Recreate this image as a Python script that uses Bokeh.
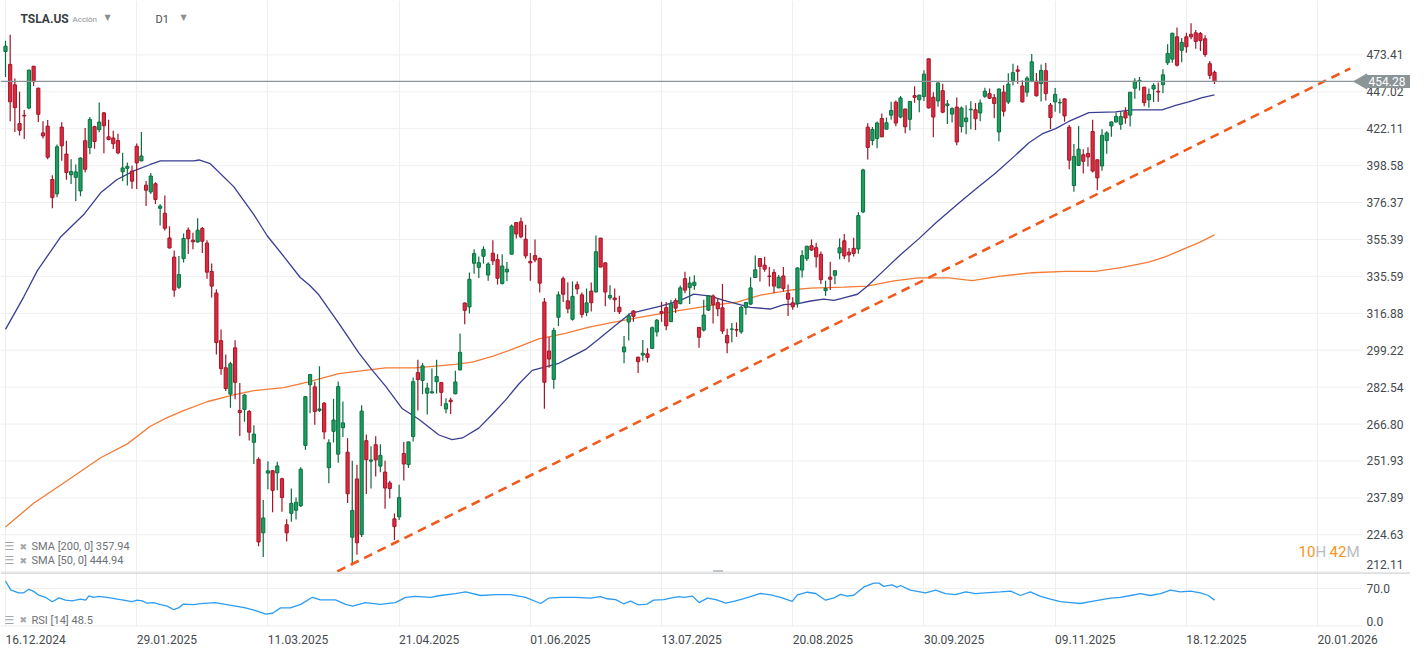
import math
from bokeh.plotting import figure
from bokeh.models import (Range1d, FixedTicker, Span, Label, ColumnDataSource,
                          CustomJSTickFormatter, Grid)
from bokeh.layouts import column
from bokeh.embed import file_html
from bokeh.resources import INLINE
from bokeh.core.properties import value

# ---------------- data (daily TSLA.US candles, 17.12.2024 .. 30.12.2025) ----------------
OPEN = [475.90, 466.50, 451.88, 425.51, 431.00, 435.90, 465.16, 449.52, 419.40, 423.79,
        390.10, 381.48, 423.20, 405.83, 392.95, 391.40, 383.21, 414.34, 409.90, 423.49,
        421.50, 432.64, 416.81, 416.06, 414.45, 394.80, 396.91, 395.21, 410.78, 401.53,
        386.68, 382.63, 387.51, 373.03, 370.19, 356.21, 345.80, 329.94, 345.00, 360.62,
        355.01, 354.00, 361.51, 353.44, 338.14, 327.02, 303.71, 291.16, 279.50, 300.34,
        272.50, 272.92, 272.06, 259.32, 252.54, 225.31, 247.22, 248.13, 247.31, 245.06,
        228.16, 232.23, 233.35, 234.99, 258.08, 283.60, 282.66, 272.48, 275.58, 249.31,
        263.80, 254.60, 265.29, 255.38, 223.78, 245.00, 224.69, 260.00, 251.84, 258.36,
        249.91, 247.61, 243.47, 230.26, 230.96, 254.86, 250.50, 261.69, 288.98, 285.50,
        279.90, 280.01, 284.90, 284.57, 273.11, 276.88, 279.63, 290.21, 321.99, 320.00,
        342.50, 340.34, 346.24, 336.30, 347.87, 344.43, 331.90, 337.92, 347.35, 364.84,
        365.29, 355.52, 343.50, 346.60, 345.10, 322.49, 298.83, 285.96, 314.94, 334.40,
        323.08, 313.97, 331.29, 326.09, 317.31, 327.95, 327.54, 356.17, 342.70, 324.61,
        324.51, 319.90, 298.46, 312.63, 317.99, 296.00, 297.00, 297.55, 300.05, 307.89,
        317.73, 319.68, 312.80, 323.15, 321.66, 334.40, 329.74, 330.90, 310.00, 308.74,
        318.45, 325.55, 322.18, 319.61, 306.21, 309.08, 308.95, 307.89, 319.79, 321.43,
        335.00, 345.00, 341.50, 335.76, 337.66, 329.62, 335.79, 327.00, 322.08, 321.66,
        338.90, 344.93, 351.94, 350.91, 347.23, 328.23, 335.20, 336.15, 348.00, 354.64,
        348.44, 350.55, 350.17, 370.94, 423.13, 414.50, 415.75, 428.87, 421.82, 431.11,
        439.88, 429.83, 435.24, 428.30, 444.35, 441.52, 443.80, 470.54, 443.29, 440.75,
        447.82, 437.57, 431.81, 436.54, 423.53, 426.77, 434.73, 434.73, 432.59, 443.87,
        445.76, 443.00, 420.00, 446.83, 439.98, 454.78, 462.50, 451.05, 446.75, 454.46,
        454.46, 452.80, 461.96, 437.92, 440.07, 439.40, 442.15, 423.13, 386.44, 398.74,
        405.38, 406.16, 420.28, 402.24, 398.42, 414.42, 423.95, 426.59, 425.00, 433.37,
        431.10, 449.50, 454.30, 450.29, 441.52, 449.00, 447.40, 452.00, 467.70, 470.30,
        486.90, 476.80, 486.90, 488.80, 489.90, 489.40, 485.40, 467.00, 460.80]
HIGH = [483.99, 488.54, 456.36, 447.08, 434.51, 462.78, 465.33, 450.00, 427.00, 427.93,
        392.73, 411.88, 426.43, 414.33, 402.50, 399.28, 403.79, 422.64, 429.80, 424.00,
        439.74, 433.20, 428.00, 420.73, 418.88, 406.69, 400.59, 398.59, 412.50, 419.99,
        389.17, 394.00, 388.39, 375.40, 380.55, 362.70, 349.37, 346.40, 358.69, 362.00,
        359.10, 367.34, 362.30, 354.98, 342.40, 328.89, 309.00, 297.23, 293.88, 303.94,
        284.35, 279.55, 272.65, 266.25, 253.37, 237.06, 251.84, 248.29, 251.58, 245.40,
        230.10, 241.41, 238.00, 249.52, 278.64, 288.20, 284.90, 291.85, 276.10, 260.56,
        277.45, 284.99, 276.30, 261.00, 252.00, 250.44, 274.69, 262.49, 257.74, 261.80,
        258.59, 251.97, 244.34, 232.21, 242.79, 259.45, 259.54, 286.85, 294.86, 293.32,
        284.45, 290.87, 294.78, 284.85, 277.73, 277.92, 289.80, 307.04, 322.21, 337.59,
        350.00, 346.14, 351.62, 343.00, 354.99, 347.35, 347.27, 343.18, 363.79, 365.00,
        367.71, 363.68, 348.02, 355.40, 345.60, 324.55, 305.50, 309.83, 327.83, 335.50,
        332.56, 332.99, 332.99, 327.26, 329.32, 332.36, 357.54, 356.26, 343.00, 331.05,
        329.34, 325.58, 305.89, 316.83, 318.45, 296.15, 304.05, 300.15, 310.48, 314.09,
        322.60, 322.50, 323.50, 324.34, 330.90, 338.00, 335.41, 336.20, 310.15, 323.63,
        326.00, 326.25, 324.45, 331.62, 309.31, 312.12, 312.45, 320.47, 322.40, 335.15,
        346.64, 345.26, 346.04, 340.47, 339.30, 336.27, 340.55, 331.37, 324.90, 340.25,
        349.53, 351.90, 355.39, 353.55, 348.75, 333.33, 343.33, 338.89, 355.87, 358.44,
        350.77, 356.33, 370.77, 396.69, 425.70, 423.25, 426.93, 432.22, 429.47, 440.20,
        440.97, 444.21, 435.35, 440.47, 450.98, 445.00, 462.29, 470.75, 446.77, 453.55,
        452.68, 441.33, 436.35, 443.13, 436.89, 437.85, 440.51, 439.35, 441.70, 449.80,
        449.40, 445.54, 449.40, 451.68, 460.16, 467.00, 465.70, 455.06, 458.00, 474.07,
        460.22, 466.33, 467.45, 439.36, 449.67, 442.49, 442.33, 424.50, 412.20, 423.96,
        408.90, 410.15, 428.00, 402.24, 421.72, 420.48, 426.94, 432.93, 433.58, 436.42,
        446.75, 456.53, 457.48, 450.39, 449.36, 453.00, 453.50, 463.00, 481.26, 490.00,
        494.00, 486.00, 490.00, 497.20, 492.00, 490.50, 488.00, 469.00, 462.00]
LOW = [457.51, 427.01, 420.02, 417.64, 415.41, 435.14, 451.02, 426.50, 415.75, 402.54,
       373.04, 379.45, 401.70, 390.00, 387.40, 377.29, 380.07, 394.54, 405.66, 409.13,
       419.75, 406.31, 414.59, 408.95, 405.78, 389.00, 386.50, 384.48, 384.41, 401.34,
       374.36, 381.40, 375.53, 363.18, 360.34, 350.51, 325.10, 329.12, 342.85, 347.50,
       350.02, 353.67, 348.00, 334.42, 324.70, 297.25, 288.04, 280.88, 273.60, 277.30,
       261.84, 267.71, 260.02, 250.73, 220.66, 217.02, 241.10, 232.60, 240.73, 232.80,
       222.28, 229.20, 230.05, 234.55, 256.33, 271.28, 266.51, 271.82, 260.57, 243.36,
       259.25, 251.27, 261.51, 236.00, 214.25, 217.80, 223.88, 239.33, 241.36, 245.93,
       247.54, 233.89, 237.68, 222.79, 229.85, 244.43, 249.20, 259.63, 272.42, 279.47,
       270.78, 279.81, 279.81, 274.40, 271.35, 271.00, 279.41, 290.00, 311.50, 316.80,
       337.00, 334.72, 342.33, 333.37, 341.63, 331.40, 331.39, 333.21, 347.32, 355.91,
       356.00, 345.00, 333.33, 343.04, 327.33, 273.21, 291.14, 281.85, 310.67, 322.50,
       316.86, 313.30, 326.41, 314.74, 315.45, 317.78, 327.48, 340.44, 320.40, 323.61,
       317.50, 316.60, 293.21, 303.82, 312.76, 288.77, 294.35, 293.55, 300.00, 305.65,
       312.67, 308.70, 312.62, 317.06, 321.42, 326.88, 321.55, 328.67, 300.41, 308.01,
       318.05, 311.92, 315.40, 306.94, 297.82, 303.00, 305.50, 306.93, 316.16, 320.98,
       334.69, 332.94, 338.00, 330.40, 327.02, 329.59, 327.85, 315.50, 318.68, 319.69,
       335.03, 343.72, 349.16, 340.26, 331.70, 325.60, 328.51, 331.48, 344.68, 344.84,
       343.07, 346.07, 347.60, 370.24, 402.43, 411.43, 409.44, 416.56, 421.72, 428.00,
       423.72, 429.03, 419.08, 421.02, 439.50, 433.12, 440.75, 435.57, 416.58, 436.69,
       432.45, 425.23, 426.18, 411.45, 419.70, 418.53, 421.73, 421.31, 427.11, 442.91,
       442.05, 429.01, 413.90, 430.18, 438.69, 451.60, 452.65, 439.61, 443.69, 453.80,
       443.71, 440.33, 441.06, 421.88, 433.36, 432.36, 426.74, 396.34, 382.78, 398.74,
       393.71, 398.13, 394.33, 383.76, 395.45, 405.95, 416.89, 426.20, 421.50, 425.36,
       423.50, 442.29, 448.00, 437.07, 436.01, 440.02, 440.25, 446.00, 466.00, 467.71,
       465.00, 468.00, 475.00, 485.00, 478.00, 476.30, 472.00, 456.00, 452.50]
CLOSE = [479.86, 440.13, 436.17, 421.06, 430.60, 462.28, 454.13, 431.66, 417.41, 403.84,
         379.28, 410.44, 411.05, 394.36, 394.94, 394.74, 403.31, 396.36, 428.22, 413.82,
         426.50, 424.07, 415.11, 412.38, 406.58, 397.15, 398.09, 389.10, 400.28, 404.60,
         383.68, 392.21, 378.17, 374.32, 361.62, 350.73, 328.50, 336.51, 355.94, 355.84,
         354.11, 360.56, 354.40, 337.80, 330.53, 302.80, 290.80, 281.95, 292.98, 284.65,
         271.60, 279.10, 263.45, 262.67, 222.15, 230.58, 248.09, 240.68, 249.98, 238.01,
         225.31, 235.86, 236.26, 248.71, 278.39, 288.14, 272.06, 273.13, 263.55, 259.16,
         268.46, 282.76, 267.28, 239.43, 233.29, 221.86, 272.20, 252.40, 252.31, 252.35,
         254.11, 241.55, 241.37, 227.50, 237.97, 250.74, 259.51, 284.95, 285.88, 292.03,
         282.16, 280.52, 287.21, 280.26, 275.35, 276.22, 284.82, 298.26, 318.38, 334.07,
         347.68, 342.82, 349.98, 342.09, 343.82, 334.62, 341.04, 339.34, 362.89, 358.43,
         356.90, 346.46, 342.69, 344.27, 332.05, 284.70, 295.14, 308.58, 326.09, 326.43,
         319.11, 325.31, 329.13, 316.35, 322.05, 322.16, 348.68, 340.47, 327.55, 325.78,
         323.63, 317.66, 300.71, 315.65, 315.35, 293.94, 297.81, 295.88, 309.87, 313.51,
         316.90, 310.78, 321.67, 319.41, 329.65, 328.49, 332.11, 332.56, 305.30, 316.06,
         325.59, 321.20, 319.04, 308.27, 302.63, 309.26, 308.72, 319.91, 322.27, 329.65,
         339.03, 340.84, 339.38, 335.58, 330.56, 335.16, 329.31, 323.90, 320.11, 340.01,
         346.60, 351.67, 349.60, 345.98, 333.87, 329.36, 334.09, 338.53, 350.84, 346.40,
         346.97, 347.79, 368.81, 395.94, 410.04, 421.62, 425.86, 416.85, 426.07, 434.21,
         425.85, 442.79, 423.39, 440.40, 443.21, 444.72, 459.46, 436.00, 429.83, 453.25,
         433.09, 438.69, 435.54, 413.49, 435.90, 429.24, 435.15, 428.75, 439.31, 447.43,
         442.60, 438.97, 448.98, 433.72, 452.42, 460.55, 461.51, 440.10, 456.56, 468.37,
         444.26, 462.07, 445.91, 429.52, 445.23, 439.62, 430.60, 401.99, 404.35, 408.92,
         401.25, 403.99, 395.23, 391.09, 417.78, 419.40, 426.58, 430.17, 430.14, 429.24,
         446.74, 454.53, 455.00, 439.58, 445.17, 451.45, 446.89, 458.96, 474.50, 489.60,
         465.90, 482.70, 479.40, 486.90, 483.40, 484.00, 473.70, 458.60, 454.28]

# SMA(50): bar index -> value
SMA50_X = [0, 3.9, 6.8, 11.7, 16.7, 20.3, 23.8, 27.4, 30.9, 33.1, 40.2, 41.3, 43.7, 48.7,
           53.0, 55.8, 59.4, 62.9, 64.9, 66.9, 71.1, 75.4, 78.3, 81.1, 84.7, 88.2, 92.5,
           95.3, 97.5, 101.0, 103.9, 106.7, 109.5, 112.4, 115.2, 118.1, 120.9, 123.8, 126.6,
           130.2, 133.4, 139.8, 144.0, 146.9, 150.4, 153.3, 156.1, 159.0, 163.2, 166.1, 168.9,
           171.8, 174.6, 176.8, 178.9, 181.8, 183.9, 187.4, 191.0, 195.0, 198.5, 203.4, 207.0,
           211.3, 215.5, 218.4, 221.2, 224.1, 226.9, 231.2, 236.9, 240.4, 246.8, 249.7, 252.5,
           255.4, 258.0]
SMA50_Y = [309.1, 325.1, 338.6, 356.6, 369.4, 382.1, 390.1, 395.4, 399.3, 401.5, 401.5, 402.1,
           399.8, 385.8, 369.4, 357.6, 346.1, 335.0, 331.0, 326.0, 312.1, 298.0, 290.0, 283.0,
           273.2, 268.8, 262.3, 260.4, 261.1, 265.1, 270.9, 276.9, 283.8, 290.0, 291.6, 293.2,
           296.4, 299.6, 304.5, 311.0, 316.9, 320.4, 323.3, 326.5, 325.5, 323.3, 321.6, 319.8,
           319.0, 321.2, 321.6, 323.0, 323.9, 323.3, 324.6, 326.4, 330.5, 338.6, 347.1, 356.0,
           364.6, 375.9, 384.3, 394.0, 405.0, 413.0, 418.7, 422.2, 426.9, 432.8, 433.3, 434.7,
           434.7, 437.7, 440.1, 443.0, 444.94]

# SMA(200)
SMA200_X = [0, 6.0, 13.2, 20.3, 26.0, 30.9, 34.5, 38.0, 43.0, 48.7, 53.0, 59.4, 64.5, 71.1,
            81.1, 87.5, 96.0, 99.6, 103.9, 108.1, 113.8, 119.5, 124.5, 129.6, 136.2, 143.3,
            150.4, 156.1, 161.1, 168.2, 171.8, 178.9, 183.9, 189.6, 194.8, 201.3, 206.3,
            212.0, 219.1, 226.2, 232.6, 238.3, 244.0, 247.6, 251.1, 254.7, 258.0]
SMA200_Y = [227.4, 235.9, 244.4, 253.2, 258.7, 265.9, 269.5, 272.4, 276.2, 279.2, 281.0, 282.3,
            284.8, 288.5, 291.1, 291.1, 292.7, 293.7, 296.4, 299.6, 304.5, 307.1, 310.1, 312.5,
            315.2, 318.1, 320.7, 322.4, 326.0, 328.7, 329.5, 330.0, 330.5, 333.2, 334.8, 334.8,
            333.4, 335.6, 337.5, 338.2, 338.2, 340.3, 343.1, 346.0, 349.8, 353.7, 357.94]

# RSI(14)
RSI_X = [0, 1.1, 2.8, 3.9, 5.0, 6.0, 7.1, 8.5, 10.0, 11.4, 12.8, 14.2, 16.0, 17.1, 17.8, 18.8,
         19.9, 21.7, 23.5, 25.2, 27.0, 28.1, 29.2, 30.2, 31.6, 33.1, 34.5, 35.9, 37.0, 38.0,
         40.2, 41.6, 44.8, 46.9, 49.1, 51.2, 53.4, 55.5, 57.0, 58.7, 60.8, 63.0, 65.5, 67.2,
         70.4, 72.6, 74.1, 76.8, 80.0, 83.2, 85.4, 87.5, 90.7, 92.8, 96.0, 98.2, 101.4, 104.6,
         107.8, 111.0, 114.2, 115.9, 118.4, 121.6, 124.8, 127.0, 128.4, 130.2, 131.9, 133.4,
         135.1, 136.9, 138.3, 140.5, 141.9, 143.7, 144.8, 146.6, 148.0, 149.8, 151.6, 153.7,
         155.4, 157.2, 159.0, 161.1, 163.3, 165.4, 167.9, 169.0, 171.1, 172.9, 175.0, 176.8,
         178.2, 179.6, 181.0, 183.2, 185.3, 186.4, 187.4, 189.2, 190.3, 191.0, 193.1, 196.3,
         198.5, 200.6, 202.7, 204.9, 207.0, 209.1, 212.3, 214.5, 216.6, 218.7, 220.9, 223.0,
         225.1, 227.3, 229.4, 231.5, 233.7, 235.8, 237.9, 240.1, 242.2, 244.3, 246.5, 248.6,
         250.7, 252.9, 255.0, 256.7, 258.0]
RSI_Y = [83.6, 67.3, 61.9, 61.9, 68.4, 64.6, 57.5, 53.7, 45.6, 52.6, 48.4, 47.2, 50.5, 48.4,
         56.5, 53.7, 55.4, 53.7, 51.0, 48.4, 45.6, 48.4, 47.2, 42.8, 44.0, 40.2, 37.5, 30.9,
         34.7, 41.2, 40.2, 41.9, 44.0, 40.7, 37.5, 34.2, 29.3, 22.8, 24.4, 34.2, 34.2, 40.7,
         53.7, 48.9, 48.9, 40.7, 37.5, 44.0, 40.7, 44.0, 53.7, 55.4, 53.7, 57.0, 60.3, 63.5,
         57.0, 58.6, 58.6, 53.7, 42.3, 52.1, 53.7, 53.7, 52.1, 54.8, 51.0, 49.4, 41.8, 46.7,
         39.6, 41.2, 48.4, 49.4, 52.1, 54.8, 53.7, 55.9, 44.0, 52.1, 49.4, 42.8, 46.1, 50.5,
         54.8, 60.7, 58.1, 53.7, 46.1, 58.1, 63.0, 60.7, 48.4, 52.6, 59.1, 55.9, 57.5, 72.8,
         79.8, 79.8, 73.8, 76.5, 72.1, 75.4, 66.8, 61.9, 66.8, 60.3, 58.6, 63.5, 60.3, 61.9,
         63.5, 65.1, 57.0, 63.5, 55.4, 50.5, 45.6, 44.0, 42.3, 45.6, 48.9, 52.1, 53.7, 57.0,
         60.3, 57.0, 60.3, 66.8, 63.5, 65.1, 61.9, 57.0, 48.5]

# hand-drawn trend line: (bar index, price) end points
TREND_X = [70.8, 287.0]
TREND_Y = [212.2, 463.6]

Y_TICKS = [212.11, 224.63, 237.89, 251.93, 266.80, 282.54, 299.22, 316.88, 335.59,
           355.39, 376.37, 398.58, 422.11, 447.02, 473.41]
RSI_TICKS = [0.0, 70.0]
X_TICK_LABELS = ["16.12.2024", "29.01.2025", "11.03.2025", "21.04.2025", "01.06.2025",
                 "13.07.2025", "20.08.2025", "30.09.2025", "09.11.2025", "18.12.2025",
                 "20.01.2026"]
LAST_PRICE = 454.28
SMA200_LAST = 357.94
SMA50_LAST = 444.94
RSI_LAST = 48.5

# ---------------- layout / styling constants ----------------
FIG_W = 1410
PANE_R = 1357       # right edge of the plotting area (px)
MAIN_H = 572
RSI_H = 54
AXIS_H = 17
BAR_PX = 4.686      # pixels per bar in the reference
FIRST_PX = 5        # x pixel of first bar
TICK_STEP = 28      # bars between date labels
P_REF, Y_REF, K = 473.41, 54.4, 643.7   # log-scale calibration (price, pixel, px per ln unit)
RSI_TOP = 99.3

FONT = "Roboto"
GRID = "#efefef"
TXT = "#454a4e"
GREEN_F, GREEN_L = "#19a05f", "#0d6d40"
RED_F, RED_L = "#e0293f", "#a01628"
TAG = "#8b9497"


def ix(px):
    return (px - FIRST_PX) / BAR_PX


def py(ypx):
    return P_REF * math.exp(-(ypx - Y_REF) / K)


def ry(ypx):
    return (633 - ypx) / 61.0 * RSI_TOP


x_range = Range1d(ix(0), ix(FIG_W))
grid_ticks = [i * TICK_STEP for i in range(len(X_TICK_LABELS))]

# ---------------- main price pane ----------------
p1 = figure(frame_width=FIG_W, frame_height=MAIN_H, x_range=x_range,
            y_range=Range1d(py(MAIN_H), py(0)), y_axis_type="log",
            x_axis_location=None, y_axis_location=None,
            output_backend="svg", toolbar_location=None,
            min_border=0)
p1.outline_line_color = None
p1.background_fill_color = "white"
p1.border_fill_color = "white"
for g in p1.grid:
    g.visible = False
p1.add_layout(Grid(dimension=0, ticker=FixedTicker(ticks=grid_ticks), grid_line_color=GRID))

# horizontal grid lines stop at the price scale
n_y = len(Y_TICKS)
p1.segment(x0=[ix(0)] * n_y, x1=[ix(PANE_R + 5)] * n_y, y0=Y_TICKS, y1=Y_TICKS,
           line_color=GRID, line_width=1)
# price scale labels
p1.text(x=[ix(1366)] * (n_y - 1), y=Y_TICKS[1:], text=[f"{v:.2f}" for v in Y_TICKS[1:]],
        text_font=value(FONT), text_font_size="12px", text_color=TXT,
        text_align="left", text_baseline="middle")
p1.add_layout(Label(x=ix(1366), y=py(564), text=f"{Y_TICKS[0]:.2f}", text_font=FONT,
                    text_font_size="12px", text_color=TXT, text_align="left",
                    text_baseline="middle"))

N = len(CLOSE)
xs = list(range(N))
up = [c >= o for o, c in zip(OPEN, CLOSE)]
src = ColumnDataSource(dict(
    x=xs, high=HIGH, low=LOW,
    top=[max(o, c) for o, c in zip(OPEN, CLOSE)],
    bottom=[min(o, c) for o, c in zip(OPEN, CLOSE)],
    fill=[GREEN_F if u else RED_F for u in up],
    line=[GREEN_L if u else RED_L for u in up],
))

p1.line(SMA200_X, SMA200_Y, line_color="#f47b35", line_width=1.3)
p1.line(SMA50_X, SMA50_Y, line_color="#3a3e91", line_width=1.3)
p1.segment(x0="x", x1="x", y0="low", y1="high", line_color="line", line_width=1.2, source=src)
p1.vbar(x="x", width=0.68, top="top", bottom="bottom", fill_color="fill",
        line_color="line", line_width=1, source=src)
p1.line(TREND_X, TREND_Y, line_color="#f05a1c", line_width=2.6, line_dash="9 6")

# last price line and tag
p1.segment(x0=[ix(0)], x1=[ix(1357)], y0=[LAST_PRICE], y1=[LAST_PRICE],
           line_color="#8a9397", line_width=1.2)
p1.scatter(x=[ix(1362)], y=[LAST_PRICE], marker="triangle", size=15, angle=math.pi / 2,
           fill_color=TAG, line_color=TAG)
p1.add_layout(Label(x=ix(1366), y=LAST_PRICE, text=f"{LAST_PRICE:.2f}", text_font=FONT,
                    text_font_size="12px", text_color="white", text_align="left",
                    text_baseline="middle", background_fill_color=TAG,
                    padding=dict(left=2, right=8, top=2, bottom=2)))

# pane resize handle
p1.rect(x=[ix(717.5)], y=[py(571)], width=10, height=3, width_units="screen",
        height_units="screen", fill_color="#c2c5c8", line_color=None)

# header
p1.add_layout(Label(x=ix(20), y=py(18), text="TSLA.US", text_font=FONT, text_font_style="bold",
                    text_font_size="12px", text_color="#3a3f44", text_baseline="middle"))
p1.add_layout(Label(x=ix(72), y=py(19), text="Acción", text_font=FONT,
                    text_font_size="8px", text_color="#8a8f93", text_baseline="middle"))
p1.add_layout(Label(x=ix(104), y=py(17), text="\u25bc", text_font="DejaVu Sans",
                    text_font_size="8px", text_color="#8a8f93", text_baseline="middle"))
p1.add_layout(Label(x=ix(155), y=py(19), text="D1", text_font=FONT,
                    text_font_size="11px", text_color="#4a4f53", text_baseline="middle"))
p1.add_layout(Label(x=ix(180), y=py(17), text="\u25bc", text_font="DejaVu Sans",
                    text_font_size="8px", text_color="#8a8f93", text_baseline="middle"))

# indicator legends
for ypx, txt in [(546, f"SMA [200,  0] {SMA200_LAST:.2f}"), (560, f"SMA [50,  0] {SMA50_LAST:.2f}")]:
    p1.add_layout(Label(x=ix(4), y=py(ypx), text="\u2630", text_font="DejaVu Sans",
                        text_font_size="11px", text_color="#a3a7aa", text_baseline="middle"))
    p1.add_layout(Label(x=ix(19), y=py(ypx), text="\u2716", text_font="DejaVu Sans",
                        text_font_size="9px", text_color="#a3a7aa", text_baseline="middle"))
    p1.add_layout(Label(x=ix(31), y=py(ypx), text=txt, text_font=FONT,
                        text_font_size="11px", text_color="#6d7276", text_baseline="middle"))

# countdown
for xpx, txt, col in [(1298, "10", "#f7941d"), (1315, "H", "#b9bcbf"),
                      (1329, "42", "#f7941d"), (1346, "M", "#b9bcbf")]:
    p1.add_layout(Label(x=ix(xpx), y=py(551), text=txt, text_font=FONT,
                        text_font_size="15px", text_color=col, text_baseline="middle"))

# ---------------- RSI pane ----------------
p2 = figure(frame_width=FIG_W, frame_height=RSI_H, x_range=x_range,
            y_range=Range1d(0, RSI_TOP), y_axis_location=None,
            output_backend="svg", toolbar_location=None,
            min_border_left=0, min_border_right=0, min_border_top=0,
            min_border_bottom=AXIS_H)
p2.outline_line_color = None
p2.xgrid.ticker = FixedTicker(ticks=grid_ticks)
p2.xgrid.grid_line_color = GRID
for g in p2.ygrid:
    g.visible = False

p2.segment(x0=[ix(0)], x1=[ix(PANE_R + 5)], y0=[RSI_TICKS[1]], y1=[RSI_TICKS[1]],
           line_color=GRID, line_width=1)
p2.segment(x0=[ix(0)], x1=[ix(PANE_R + 5)], y0=[ry(632.5)], y1=[ry(632.5)],
           line_color="#e4e4e4", line_width=1)
p2.text(x=[ix(1366)], y=[RSI_TICKS[1]], text=[f"{RSI_TICKS[1]:.1f}"],
        text_font=value(FONT), text_font_size="12px", text_color=TXT,
        text_align="left", text_baseline="middle")
p2.add_layout(Label(x=ix(1366), y=ry(627), text=f"{RSI_TICKS[0]:.1f}", text_font=FONT,
                    text_font_size="12px", text_color=TXT, text_align="left",
                    text_baseline="middle"))

LABEL_OFF = 6.42   # half a date label, in bars -> labels start at the grid line
xax = p2.xaxis[0]
xax.ticker = FixedTicker(ticks=[g + LABEL_OFF for g in grid_ticks])
xax.formatter = CustomJSTickFormatter(
    args=dict(labels=X_TICK_LABELS, step=TICK_STEP, off=LABEL_OFF),
    code="const i = Math.round((tick - off) / step); return (i >= 0 && i < labels.length) ? labels[i] : '';")
xax.axis_line_color = None
xax.major_tick_line_color = None
xax.minor_tick_line_color = None
xax.major_label_standoff = 2
xax.major_label_text_font = FONT
xax.major_label_text_font_size = "12px"
xax.major_label_text_color = TXT

p2.line(RSI_X, RSI_Y, line_color="#2c9cf2", line_width=1.3)
p2.add_layout(Span(location=RSI_TOP, dimension="width", line_color="#cfd2d4", line_width=2.5))
p2.add_layout(Label(x=ix(4), y=ry(626), text="\u2630", text_font="DejaVu Sans",
                    text_font_size="11px", text_color="#a3a7aa", text_baseline="middle"))
p2.add_layout(Label(x=ix(19), y=ry(626), text="\u2716", text_font="DejaVu Sans",
                    text_font_size="9px", text_color="#a3a7aa", text_baseline="middle"))
p2.add_layout(Label(x=ix(31), y=ry(626), text=f"RSI [14]  {RSI_LAST}", text_font=FONT,
                    text_font_size="11px", text_color="#6d7276", text_baseline="middle"))

layout = column(p1, p2, spacing=0)
open("out.html", "w").write(file_html(layout, INLINE))
